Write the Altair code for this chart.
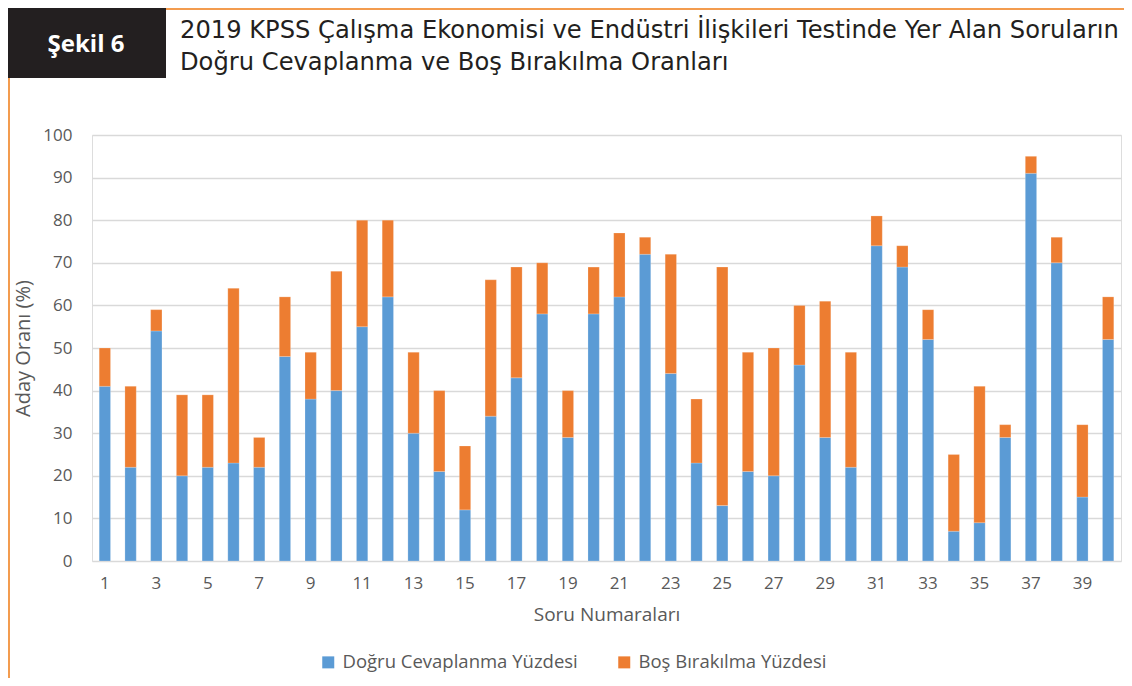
import altair as alt
import pandas as pd

questions = list(range(1, 41))
dogru = [41, 22, 54, 20, 22, 23, 22, 48, 38, 40,
         55, 62, 30, 21, 12, 34, 43, 58, 29, 58,
         62, 72, 44, 23, 13, 21, 20, 46, 29, 22,
         74, 69, 52, 7, 9, 29, 91, 70, 15, 52]
toplam = [50, 41, 59, 39, 39, 64, 29, 62, 49, 68,
          80, 80, 49, 40, 27, 66, 69, 70, 40, 69,
          77, 76, 72, 38, 69, 49, 50, 60, 61, 49,
          81, 74, 59, 25, 41, 32, 95, 76, 32, 62]
bos = [t - d for t, d in zip(toplam, dogru)]

series = ["Doğru Cevaplanma Yüzdesi", "Boş Bırakılma Yüzdesi"]
colors = ["#5B9BD5", "#ED7D31"]
title_lines = ["2019 KPSS Çalışma Ekonomisi ve Endüstri İlişkileri Testinde Yer Alan Soruların",
               "Doğru Cevaplanma ve Boş Bırakılma Oranları"]
badge = "Şekil 6"

rows = []
for q, d, b in zip(questions, dogru, bos):
    rows.append({"Soru": q, "Seri": series[0], "Deger": d, "Sira": 0})
    rows.append({"Soru": q, "Seri": series[1], "Deger": b, "Sira": 1})
df = pd.DataFrame(rows)

W, H = 1029, 426
FONT = "Open Sans"
TFONT = "DejaVu Sans"
GREY = "#595959"

bars = alt.Chart(df).mark_bar(stroke="#ffffff", strokeWidth=0.4, strokeOpacity=0.5).encode(
    x=alt.X("Soru:O", sort="ascending",
            scale=alt.Scale(paddingInner=0.56, paddingOuter=0.28),
            axis=alt.Axis(title="Soru Numaraları", labelAngle=0, ticks=False, domain=False,
                          labelExpr="datum.value % 2 == 1 ? datum.label : ''",
                          labelFont=FONT, labelFontSize=17, labelColor=GREY, labelPadding=14,
                          titleFont=FONT, titleFontSize=19, titleColor=GREY, titleFontWeight="normal",
                          titlePadding=14)),
    y=alt.Y("Deger:Q", stack="zero",
            scale=alt.Scale(domain=[0, 100], nice=False),
            axis=alt.Axis(title="Aday Oranı (%)", values=list(range(0, 101, 10)), ticks=False,
                          domain=False, gridColor="#d9d9d9", gridWidth=1.5,
                          labelFont=FONT, labelFontSize=17, labelColor=GREY, labelPadding=20,
                          titleFont=FONT, titleFontSize=20, titleColor=GREY, titleFontWeight="normal",
                          titlePadding=9)),
    color=alt.Color("Seri:N", sort=series, scale=alt.Scale(domain=series, range=colors),
                    legend=alt.Legend(title=None, orient="none", direction="horizontal",
                                      legendX=227, legendY=518, symbolType="square", symbolSize=144,
                                      symbolStrokeWidth=0, columnPadding=37, labelLimit=0,
                                      labelOffset=5,
                                      labelFont=FONT, labelFontSize=18.5, labelColor=GREY)),
    order=alt.Order("Sira:Q", sort="ascending"),
)

one = alt.Data(values=[{"k": 0}])

box = alt.Chart(one).mark_rect(color="#231f20").encode(
    x=alt.value(-84), x2=alt.value(74), y=alt.value(-127), y2=alt.value(-57))
top_line = alt.Chart(one).mark_rule(color="#F39C4F", strokeWidth=2).encode(
    x=alt.value(74), x2=alt.value(1032), y=alt.value(-126))
left_line = alt.Chart(one).mark_rule(color="#F39C4F", strokeWidth=2).encode(
    x=alt.value(-83), y=alt.value(-57), y2=alt.value(545))
badge_text = alt.Chart(one).mark_text(text=badge, font=FONT, fontSize=24, fontWeight="bold",
                                      color="#ffffff", align="center", baseline="middle").encode(
    x=alt.value(-6), y=alt.value(-90))
t1 = alt.Chart(one).mark_text(text=title_lines[0], font=TFONT, fontSize=24.2, color="#231f20",
                              align="left", baseline="middle").encode(
    x=alt.value(88), y=alt.value(-104))
t2 = alt.Chart(one).mark_text(text=title_lines[1], font=TFONT, fontSize=24.2, color="#231f20",
                              align="left", baseline="middle").encode(
    x=alt.value(88), y=alt.value(-72))

chart = alt.layer(bars, box, top_line, left_line, badge_text, t1, t2).properties(
    width=W, height=H,
    autosize=alt.AutoSizeParams(type="none"),
    padding={"left": 84, "right": 3, "top": 127, "bottom": 117},
).configure_view(stroke=None).configure(background="#ffffff")

chart.save("out.html", embed_options={"renderer": "svg", "actions": False})
